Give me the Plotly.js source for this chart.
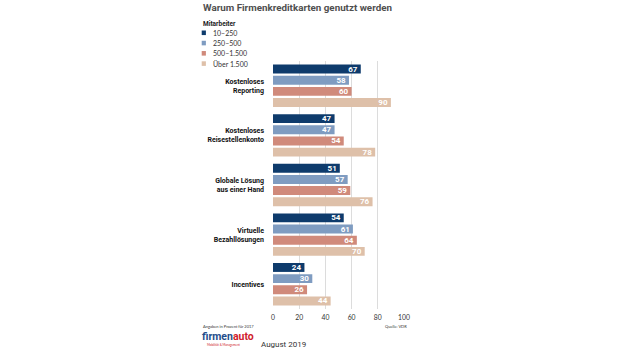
<!DOCTYPE html>
<html>
<head>
<meta charset="utf-8">
<script src="https://cdn.plot.ly/plotly-3.0.1.min.js"></script>
<style>html,body{margin:0;padding:0;background:#fff;}#chart{width:620px;height:349px;}</style>
</head>
<body>
<div id="chart"></div>
<script>
const categories = ["Kostenloses<br>Reporting", "Kostenloses<br>Reisestellenkonto", "Globale Lösung<br>aus einer Hand", "Virtuelle<br>Bezahllösungen", "Incentives"];
const seriesNames = ["10–250", "250–500", "500–1.500", "Über 1.500"];
const values_10_250 = [67, 47, 51, 54, 24];
const values_250_500 = [58, 47, 57, 61, 30];
const values_500_1500 = [60, 54, 59, 64, 26];
const values_ueber_1500 = [90, 78, 76, 70, 44];
const xTicks = [0, 20, 40, 60, 80, 100];

const seriesValues = [values_10_250, values_250_500, values_500_1500, values_ueber_1500];
const colors = ["#0e3b6c", "#7f9cc1", "#d08a7b", "#dec0a9"];
const narrow = "Lato, Roboto, sans-serif";
const boldFont = "Roboto, Lato, sans-serif";

const traces = seriesValues.map((vals, i) => ({
  type: 'bar', orientation: 'h', name: seriesNames[i],
  y: categories, x: vals,
  marker: {color: colors[i]},
  text: vals.map(String), textposition: 'inside', insidetextanchor: 'end',
  textangle: 0, constraintext: 'none',
  textfont: {color: '#fff', size: 8, family: boldFont, weight: 'bold'},
  hoverinfo: 'none', showlegend: false
}));

// plot area in pixels
const L = 273, R = 404, T = 60.6, B = 309.4;
const px = x => (x - L) / (R - L);
const py = y => (B - y) / (B - T);

const annotations = [];
const shapes = [];
function note(text, x, y, xanchor, font) {
  annotations.push({text: text, xref: 'paper', yref: 'paper', x: px(x), y: py(y), xanchor: xanchor, yanchor: 'middle', showarrow: false, borderpad: 0, font: font});
}
note('<b>Warum Firmenkreditkarten genutzt werden</b>', 201.5, 6.5, 'left', {family: 'Roboto, sans-serif', size: 9.8, color: '#505050'});
note('<b>Mitarbeiter</b>', 201.5, 23, 'left', {family: boldFont, size: 6.5, color: '#222'});
seriesNames.forEach((n, i) => {
  const yc = 32.3 + i * 10.3;
  shapes.push({type: 'rect', xref: 'paper', yref: 'paper', x0: px(201.7), x1: px(205.9), y0: py(yc - 2.3), y1: py(yc + 2.3), fillcolor: colors[i], line: {width: 0}});
  note(n, 211.5, yc, 'left', {family: narrow, size: 7, color: '#333'});
});
note('Angaben in Prozent für 2017', 201.5, 327, 'left', {family: narrow, size: 4, color: '#333'});
note('Quelle: VDR', 408, 327, 'right', {family: narrow, size: 4, color: '#333'});
note('<span style="color:#1f4e8c">firmen</span><span style="color:#d0212b">auto</span>', 201, 337, 'left', {family: boldFont, size: 10.5, weight: 'bold'});
note('Mobilität & Management', 206, 345.8, 'left', {family: narrow, size: 3, color: '#d0212b'});
note('August 2019', 260, 344.8, 'left', {family: 'Roboto, sans-serif', size: 8, color: '#333'});

const layout = {
  width: 620, height: 349,
  margin: {l: L, r: 620 - R, t: T, b: 349 - B, pad: 0},
  paper_bgcolor: '#fff', plot_bgcolor: '#fff',
  barmode: 'group', bargap: 0.1, bargroupgap: 0.2,
  showlegend: false,
  xaxis: {range: [0, 100], tickvals: xTicks, ticktext: xTicks.map(String), showgrid: true, gridcolor: '#dcdcdc', gridwidth: 1, zeroline: false, showline: false, ticks: '', fixedrange: true, ticklabelstandoff: 3,
    tickfont: {family: narrow, size: 6.8, color: '#333'}},
  yaxis: {type: 'category', autorange: 'reversed', showgrid: false, zeroline: false, showline: false, ticks: '', ticklabelstandoff: 8,
    tickfont: {family: boldFont, size: 7, color: '#111', weight: 'bold'}},
  annotations: annotations, shapes: shapes,
  font: {family: narrow}
};

Plotly.newPlot('chart', traces, layout, {displayModeBar: false, staticPlot: true});
</script>
</body>
</html>
